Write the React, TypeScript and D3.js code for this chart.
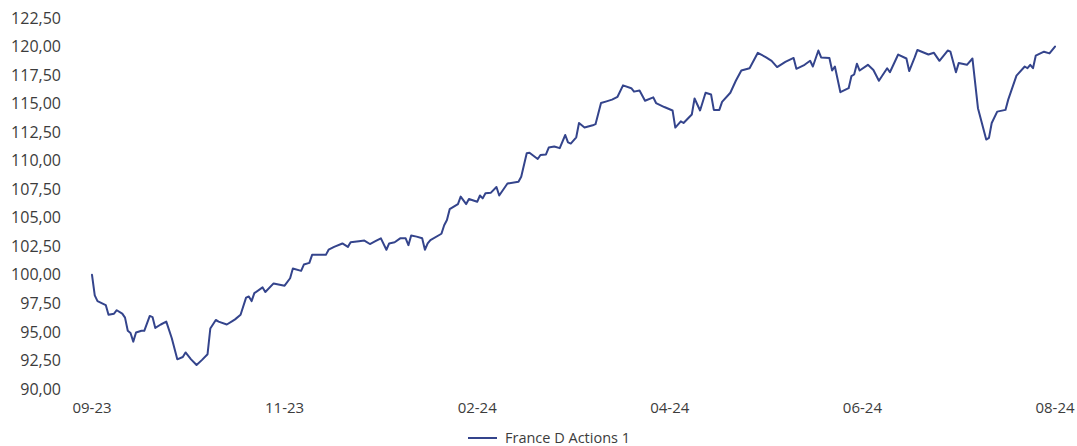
import React, { useEffect, useRef } from "react";
import * as d3 from "d3";

// Day index (0..350) and value of the series
const dayIndex = [
  0, 1, 2, 5, 6, 8, 9, 11, 12, 13, 14, 15, 16, 18, 19, 21, 22, 23, 25, 27, 29, 31, 33, 34, 36, 38, 40, 42, 43, 45,
  46, 49, 51, 52, 54, 56, 57, 58, 59, 62, 63, 66, 70, 72, 73, 76, 77, 79, 80, 85, 86, 88, 91, 93, 94, 97, 99, 101,
  103, 105, 107, 108, 110, 112, 114, 115, 116, 118, 120, 121, 122, 123, 127, 128, 129, 130, 133, 134, 136, 137, 140,
  141, 142, 143, 145, 147, 148, 151, 155, 156, 158, 159, 162, 163, 165, 166, 168, 170, 172, 173, 174, 176, 177, 179,
  182, 183, 185, 187, 189, 191, 193, 196, 197, 199, 201, 204, 205, 208, 211, 212, 214, 215, 218, 219, 221, 223, 225,
  226, 228, 229, 232, 234, 236, 239, 242, 245, 247, 249, 252, 255, 256, 259, 261, 262, 264, 265, 268, 269, 270, 272,
  275, 276, 277, 278, 279, 282, 284, 286, 289, 290, 293, 296, 297, 299, 300, 304, 306, 308, 311, 312, 314, 315, 318,
  320, 322, 325, 326, 327, 329, 332, 333, 336, 339, 340, 341, 342, 343, 346, 348, 350,
];
const values = [
  100.0, 98.2, 97.7, 97.35, 96.5, 96.6, 96.9, 96.6, 96.25, 95.1, 94.9, 94.15, 94.95, 95.1, 95.1, 96.4, 96.3, 95.35,
  95.65, 95.9, 94.45, 92.6, 92.8, 93.2, 92.6, 92.1, 92.55, 93.05, 95.3, 96.05, 95.9, 95.65, 95.95, 96.1, 96.5, 98.0,
  98.1, 97.7, 98.4, 98.9, 98.5, 99.25, 99.05, 99.7, 100.55, 100.35, 100.9, 101.05, 101.75, 101.75, 102.2, 102.45,
  102.75, 102.45, 102.85, 102.95, 103.0, 102.7, 102.95, 103.2, 102.2, 102.75, 102.85, 103.2, 103.2, 102.6, 103.45,
  103.35, 103.2, 102.2, 102.75, 103.05, 103.6, 104.35, 104.8, 105.75, 106.2, 106.85, 106.2, 106.65, 106.4, 106.95,
  106.7, 107.15, 107.2, 107.7, 106.95, 108.0, 108.15, 108.6, 110.65, 110.7, 110.15, 110.5, 110.55, 111.15, 111.25,
  111.1, 112.25, 111.6, 111.5, 112.05, 113.3, 112.9, 113.1, 113.2, 115.05, 115.2, 115.35, 115.6, 116.6, 116.35,
  116.05, 116.15, 115.25, 115.55, 115.05, 114.7, 114.4, 112.9, 113.45, 113.3, 114.05, 115.45, 114.4, 115.95, 115.8,
  114.45, 114.45, 115.15, 115.95, 117.0, 117.9, 118.1, 119.45, 119.05, 118.75, 118.2, 118.65, 119.0, 118.05, 118.4,
  118.75, 118.25, 119.65, 119.05, 119.0, 117.9, 118.25, 116.0, 116.35, 117.4, 117.55, 118.5, 117.9, 118.4, 117.95,
  117.0, 118.1, 117.75, 119.3, 118.95, 117.85, 119.05, 119.7, 119.3, 119.45, 118.75, 119.65, 119.55, 117.75, 118.55,
  118.4, 118.95, 114.6, 111.85, 112.0, 113.3, 114.3, 114.45, 115.35, 117.45, 118.25, 118.1, 118.4, 118.1, 119.2,
  119.55, 119.4, 120.0,
];

const xTickIndex = [0, 70, 140, 210, 280, 350];
const xTickLabels = ["09-23", "11-23", "02-24", "04-24", "06-24", "08-24"];
const yTicks = [90, 92.5, 95, 97.5, 100, 102.5, 105, 107.5, 110, 112.5, 115, 117.5, 120, 122.5];
const seriesName = "France D Actions 1";

const W = 1077;
const H = 446;
const FONT = "'Open Sans', sans-serif";
const TEXT = "#3c3c3c";
const LINE = "#34448c";

export default function App() {
  const ref = useRef<SVGSVGElement>(null);

  useEffect(() => {
    const svg = d3.select(ref.current);
    svg.selectAll("*").remove();

    const x = d3.scaleLinear().domain([0, 350]).range([92, 1055]);
    const y = d3.scaleLinear().domain([90, 122.5]).range([389, 18]);
    const fmt = (v: number) => v.toFixed(2).replace(".", ",");

    // y labels
    svg
      .append("g")
      .selectAll("text")
      .data(yTicks)
      .join("text")
      .attr("x", 61)
      .attr("y", (d) => y(d))
      .attr("dy", "0.35em")
      .attr("text-anchor", "end")
      .attr("font-family", FONT)
      .attr("font-size", 16)
      .attr("fill", TEXT)
      .text((d) => fmt(d));

    // x labels
    svg
      .append("g")
      .selectAll("text")
      .data(xTickIndex)
      .join("text")
      .attr("x", (d) => x(d))
      .attr("y", 408)
      .attr("dy", "0.35em")
      .attr("text-anchor", "middle")
      .attr("font-family", FONT)
      .attr("font-size", 15)
      .attr("fill", TEXT)
      .text((_, i) => xTickLabels[i]);

    const pts: [number, number][] = dayIndex.map((d, i) => [d, values[i]]);
    const line = d3
      .line<[number, number]>()
      .x((d) => x(d[0]))
      .y((d) => y(d[1]))
      .curve(d3.curveLinear);

    svg
      .append("path")
      .attr("d", line(pts) || "")
      .attr("fill", "none")
      .attr("stroke", LINE)
      .attr("stroke-width", 2)
      .attr("stroke-linejoin", "round")
      .attr("stroke-linecap", "round");

    // legend
    const lg = svg.append("g").attr("transform", "translate(468,438)");
    lg.append("line")
      .attr("x1", 0)
      .attr("x2", 29)
      .attr("y1", 0)
      .attr("y2", 0)
      .attr("stroke", LINE)
      .attr("stroke-width", 2);
    lg.append("text")
      .attr("x", 37)
      .attr("y", 0)
      .attr("dy", "0.35em")
      .attr("font-family", FONT)
      .attr("font-size", 14.5)
      .attr("fill", TEXT)
      .text(seriesName);
  }, []);

  return (
    <svg
      ref={ref}
      width={W}
      height={H}
      style={{ position: "absolute", left: 0, top: 0, background: "#fff" }}
    />
  );
}
